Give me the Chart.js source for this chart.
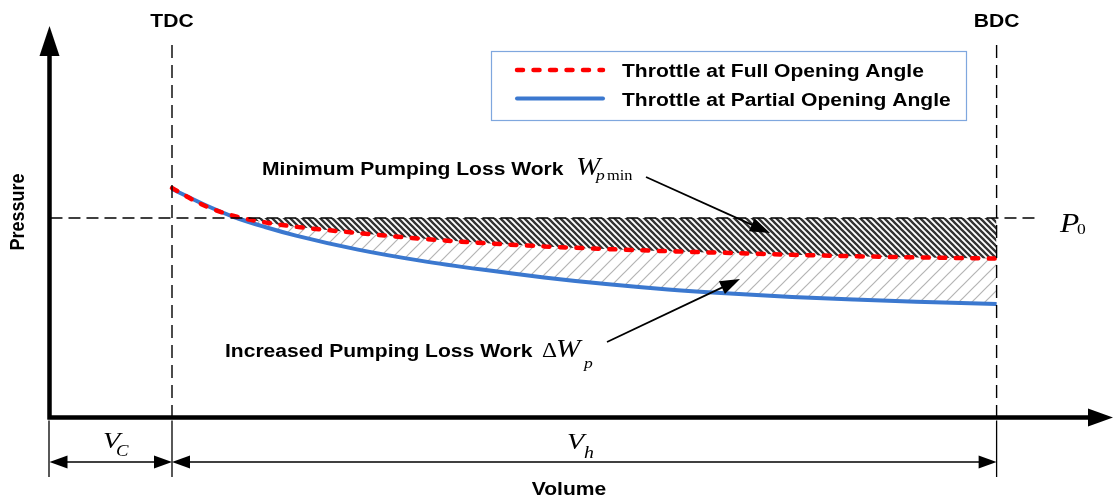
<!DOCTYPE html>
<html>
<head>
<meta charset="utf-8">
<script src="https://cdn.jsdelivr.net/npm/chart.js@4.4.1/dist/chart.umd.min.js"></script>
<style>
html, body { margin: 0; padding: 0; background: #fff; }
#wrap { width: 1114px; height: 501px; }
</style>
</head>
<body>
<div id="wrap"><canvas id="pv" width="1114" height="501"></canvas></div>
<script>
// volume in units of V_C, pressure relative to P0 = 1
var volume = [1, 1.25, 1.5, 1.75, 2, 2.5, 3, 3.5, 4, 4.5, 5, 5.5, 6, 6.5, 7, 7.65];
var fullOpening = [1.150, 1.065, 1.010, 0.978, 0.956, 0.925, 0.897, 0.875, 0.858, 0.845, 0.834, 0.825, 0.816, 0.809, 0.803, 0.797];
var partialOpening = [1.145, 1.070, 1.005, 0.955, 0.912, 0.842, 0.787, 0.742, 0.703, 0.670, 0.643, 0.622, 0.605, 0.592, 0.581, 0.570];
var p0 = 1;
var tdc = 1;
var bdc = 7.65;
var p0Span = [0.02, 8.0];
var deadTop = 1.865;
var legendLabels = ['Throttle at Full Opening Angle', 'Throttle at Partial Opening Angle'];

var canvas = document.getElementById('pv');
var ctx = canvas.getContext('2d');

function hatch(size, dir, color, width) {
  var c = document.createElement('canvas');
  c.width = size; c.height = size;
  var g = c.getContext('2d');
  g.strokeStyle = color;
  g.lineWidth = width;
  g.beginPath();
  if (dir === '/') {
    g.moveTo(0, size); g.lineTo(size, 0);
    g.moveTo(-1, 1); g.lineTo(1, -1);
    g.moveTo(size - 1, size + 1); g.lineTo(size + 1, size - 1);
  } else {
    g.moveTo(0, 0); g.lineTo(size, size);
    g.moveTo(-1, size - 1); g.lineTo(1, size + 1);
    g.moveTo(size - 1, -1); g.lineTo(size + 1, 1);
  }
  g.stroke();
  return ctx.createPattern(c, 'repeat');
}

var darkHatch = hatch(6, '\\', '#333333', 2.3);
var lightHatch = hatch(13, '/', '#b4b4b4', 1.2);

function pts(xs, ys) {
  return xs.map(function (x, i) { return { x: x, y: ys[i] }; });
}

var SX = 1.17;
var SANS = '"Liberation Sans", Arial, sans-serif';
var SERIF = '"Liberation Serif", "Times New Roman", serif';

function stext(c, s, x, y, font, align) {
  c.save();
  c.font = font;
  c.textAlign = align || 'left';
  c.textBaseline = 'alphabetic';
  c.translate(x, y);
  c.scale(SX, 1);
  c.fillText(s, 0, 0);
  c.restore();
}

function head(c, x1, y1, x2, y2, len, half) {
  var a = Math.atan2(y2 - y1, x2 - x1);
  c.beginPath();
  c.moveTo(x2, y2);
  c.lineTo(x2 - len * Math.cos(a) + half * Math.sin(a), y2 - len * Math.sin(a) - half * Math.cos(a));
  c.lineTo(x2 - len * Math.cos(a) - half * Math.sin(a), y2 - len * Math.sin(a) + half * Math.cos(a));
  c.closePath();
  c.fill();
}

function arrow(c, x1, y1, x2, y2, len, half) {
  var a = Math.atan2(y2 - y1, x2 - x1);
  c.beginPath();
  c.moveTo(x1, y1);
  c.lineTo(x2 - len * 0.8 * Math.cos(a), y2 - len * 0.8 * Math.sin(a));
  c.stroke();
  head(c, x1, y1, x2, y2, len, half);
}

function dimArrow(c, x1, x2, y) {
  c.beginPath();
  c.moveTo(x1 + 10, y); c.lineTo(x2 - 10, y);
  c.stroke();
  head(c, x2, y, x1, y, 18, 6.5);
  head(c, x1, y, x2, y, 18, 6.5);
}

var overlay = {
  id: 'overlay',
  afterDraw: function (chart) {
    var c = chart.ctx;
    var xs = chart.scales.x, ys = chart.scales.y;
    var ax = xs.getPixelForValue(0) + 1.5;
    var ay = ys.getPixelForValue(0) - 0.5;
    var xT = xs.getPixelForValue(tdc), xB = xs.getPixelForValue(bdc);
    c.save();
    c.fillStyle = '#000';
    c.strokeStyle = '#000';

    // axes with arrow heads
    c.lineWidth = 4.5;
    c.beginPath();
    c.moveTo(ax, ay + 2); c.lineTo(ax, 50);
    c.moveTo(ax - 2, ay); c.lineTo(1092, ay);
    c.stroke();
    head(c, ax, 100, ax, 26, 30, 10);
    head(c, 1000, ay, 1113, ay, 25, 9);

    // extension lines and dimension arrows
    c.lineWidth = 1.3;
    c.beginPath();
    [ax - 0.5, xT, xB].forEach(function (x) { c.moveTo(x, ay + 3); c.lineTo(x, 477); });
    c.stroke();
    c.lineWidth = 1.6;
    dimArrow(c, ax, xT, 462);
    dimArrow(c, xT, xB, 462);

    // labels
    var bold = 'bold 18px ' + SANS;
    stext(c, 'TDC', xT, 27, bold, 'center');
    stext(c, 'BDC', xB, 27, bold, 'center');
    stext(c, 'Volume', 569, 495, bold, 'center');
    c.save();
    c.translate(24, 212);
    c.rotate(-Math.PI / 2);
    c.scale(1, SX);
    c.font = bold;
    c.textAlign = 'center';
    c.fillText('Pressure', 0, 0);
    c.restore();

    stext(c, 'V', 103, 448, 'italic 24px ' + SERIF);
    stext(c, 'C', 116, 456, 'italic 16px ' + SERIF);
    stext(c, 'V', 567, 449, 'italic 24px ' + SERIF);
    stext(c, 'h', 584, 458, 'italic 17px ' + SERIF);
    stext(c, 'P', 1060, 232, 'italic 27px ' + SERIF);
    stext(c, '0', 1077, 234, '15px ' + SERIF);

    // annotations
    stext(c, 'Minimum Pumping Loss Work', 262, 175, bold);
    stext(c, 'W', 576, 175, 'italic 25px ' + SERIF);
    stext(c, 'p', 596, 180, 'italic 15px ' + SERIF);
    stext(c, 'min', 607, 180, '14px ' + SERIF);
    stext(c, 'Increased Pumping Loss Work', 225, 357, bold);
    stext(c, '\u0394', 542, 357, '20px ' + SERIF);
    stext(c, 'W', 556, 357, 'italic 25px ' + SERIF);
    stext(c, 'p', 584, 368, 'italic 15px ' + SERIF);
    c.lineWidth = 1.8;
    arrow(c, 646, 177, 770, 233, 20, 7);
    arrow(c, 607, 342, 740, 279, 20, 7);

    // legend
    c.lineWidth = 1.2;
    c.strokeStyle = '#7fa7de';
    c.strokeRect(491.5, 51.5, 475, 69);
    var sets = [chart.data.datasets[3], chart.data.datasets[4]];
    sets.forEach(function (ds, i) {
      var y = 70 + i * 28.5;
      c.save();
      c.strokeStyle = ds.borderColor;
      c.lineWidth = ds.borderWidth;
      c.lineCap = 'round';
      c.setLineDash(ds.borderDash || []);
      c.beginPath();
      c.moveTo(517, y); c.lineTo(603, y);
      c.stroke();
      c.restore();
      stext(c, legendLabels[i], 622, y + 7, bold);
    });
    c.restore();
  }
};

new Chart(ctx, {
  type: 'line',
  data: {
    datasets: [
      {
        label: 'P0',
        data: pts(p0Span, [p0, p0]),
        borderColor: '#000',
        borderWidth: 1.6,
        borderDash: [12, 6],
        pointRadius: 0,
        fill: false
      },
      {
        label: 'TDC',
        data: pts([tdc, tdc], [0, deadTop]),
        borderColor: '#000',
        borderWidth: 1.4,
        borderDash: [13, 7],
        pointRadius: 0,
        fill: false
      },
      {
        label: 'BDC',
        data: pts([bdc, bdc], [0, deadTop]),
        borderColor: '#000',
        borderWidth: 1.4,
        borderDash: [13, 7],
        pointRadius: 0,
        fill: false
      },
      {
        label: legendLabels[0],
        data: pts(volume, fullOpening),
        borderColor: '#ff0000',
        borderWidth: 4.5,
        borderDash: [6, 10.5],
        borderCapStyle: 'round',
        cubicInterpolationMode: 'monotone',
        pointRadius: 0,
        fill: { target: { value: p0 }, above: 'rgba(0,0,0,0)', below: darkHatch }
      },
      {
        label: legendLabels[1],
        data: pts(volume, partialOpening),
        borderColor: '#3b78cf',
        borderWidth: 4,
        cubicInterpolationMode: 'monotone',
        pointRadius: 0,
        fill: { target: 3, above: 'rgba(0,0,0,0)', below: lightHatch }
      }
    ]
  },
  options: {
    responsive: false,
    animation: false,
    layout: { padding: { left: 48, right: 12, top: 38, bottom: 83 } },
    scales: {
      x: { type: 'linear', min: 0, max: 8.5, display: false },
      y: { min: 0, max: 1.9, display: false }
    },
    plugins: {
      legend: { display: false },
      tooltip: { enabled: false }
    }
  },
  plugins: [overlay]
});
</script>
</body>
</html>
